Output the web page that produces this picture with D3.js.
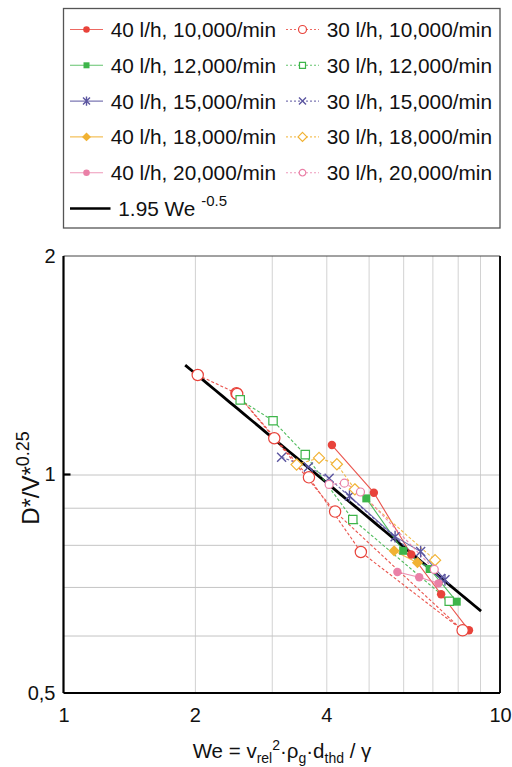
<!DOCTYPE html>
<html>
<head>
<meta charset="utf-8">
<script src="https://cdn.jsdelivr.net/npm/d3@7"></script>
<style>
  html, body { margin: 0; padding: 0; background: #fff; }
  svg { display: block; font-family: "Liberation Sans", Arial, Helvetica, sans-serif; }
</style>
</head>
<body>
<svg id="chart" width="512" height="767"></svg>
<script>
// Measured droplet size ratio D*/V*^0.25 against Weber number We,
// for two liquid flow rates (40 l/h, 30 l/h) and five rotational speeds.
const we40_10000 = [4.12, 5.14, 6.26, 7.33, 8.49];
const d40_10000  = [1.098, 0.944, 0.776, 0.684, 0.610];
const we30_10000 = [2.03, 2.49, 3.04, 4.19, 8.21, 4.80, 3.65, 2.50];
const d30_10000  = [1.371, 1.294, 1.122, 0.889, 0.610, 0.782, 0.991, 1.291];

const we40_12000 = [4.94, 6.00, 6.90, 7.96];
const d40_12000  = [0.927, 0.785, 0.741, 0.668];
const we30_12000 = [2.54, 3.02, 3.58, 4.60, 7.65];
const d30_12000  = [1.267, 1.186, 1.065, 0.867, 0.669];

const we40_15000 = [4.52, 5.75, 6.58, 7.48];
const d40_15000  = [0.934, 0.821, 0.783, 0.716];
const we30_15000 = [3.16, 3.64, 4.06, 7.31];
const d30_15000  = [1.056, 1.024, 0.988, 0.719];

const we40_18000 = [5.72, 6.47];
const d40_18000  = [0.785, 0.756];
const we30_18000 = [3.42, 3.85, 4.23, 4.65, 7.10];
const d30_18000  = [1.032, 1.054, 1.033, 0.954, 0.762];

const we40_20000 = [5.82, 6.53, 7.23];
const d40_20000  = [0.734, 0.722, 0.708];
const we30_20000 = [4.06, 4.40, 4.79, 7.07];
const d30_20000  = [0.969, 0.973, 0.946, 0.740];

// Correlation D*/V*^0.25 = 1.95 We^-0.5 over the measured range
const fitCoef = 1.95;
const fitExp = -0.5;
const fitRange = [1.9, 9.05];

const xTicks = [1, 2, 4, 10];
const yTicks = [0.5, 1, 2];
const xGrid = [2, 3, 4, 5, 6, 7, 8, 9];
const yGrid = [0.6, 0.7, 0.8, 0.9, 1];

const labels = [
  "40 l/h, 10,000/min", "30 l/h, 10,000/min",
  "40 l/h, 12,000/min", "30 l/h, 12,000/min",
  "40 l/h, 15,000/min", "30 l/h, 15,000/min",
  "40 l/h, 18,000/min", "30 l/h, 18,000/min",
  "40 l/h, 20,000/min", "30 l/h, 20,000/min"
];

// ---- marker shapes ----
const symDiamond = { draw(c, s) { const r = Math.sqrt(s / 2);
  c.moveTo(0, -r); c.lineTo(r, 0); c.lineTo(0, r); c.lineTo(-r, 0); c.closePath(); } };
const symTimes = { draw(c, s) { const r = Math.sqrt(s) / 2;
  c.moveTo(-r, -r); c.lineTo(r, r); c.moveTo(-r, r); c.lineTo(r, -r); } };
const symStar = { draw(c, s) { const r = Math.sqrt(s) / 2;
  c.moveTo(-r, -r); c.lineTo(r, r); c.moveTo(-r, r); c.lineTo(r, -r);
  c.moveTo(0, -r * 1.3); c.lineTo(0, r * 1.3); } };

const RED = "#e8433b", GREEN = "#3db54a", PURPLE = "#5b55a0", ORANGE = "#f1b233", PINK = "#ea80a7";

const series = [
  { we: we40_10000, d: d40_10000, color: RED,    sym: d3.symbolCircle, size: 56,  kind: "fill", legSize: 34 },
  { we: we30_10000, d: d30_10000, color: RED,    sym: d3.symbolCircle, size: 100, kind: "open", legSize: 50 },
  { we: we40_12000, d: d40_12000, color: GREEN,  sym: d3.symbolSquare, size: 64,  kind: "fill", legSize: 36 },
  { we: we30_12000, d: d30_12000, color: GREEN,  sym: d3.symbolSquare, size: 70,  kind: "open", legSize: 36 },
  { we: we40_15000, d: d40_15000, color: PURPLE, sym: symStar,         size: 81,  kind: "line", legSize: 49 },
  { we: we30_15000, d: d30_15000, color: PURPLE, sym: symTimes,        size: 81,  kind: "line", legSize: 49 },
  { we: we40_18000, d: d40_18000, color: ORANGE, sym: symDiamond,      size: 62,  kind: "fill", legSize: 40 },
  { we: we30_18000, d: d30_18000, color: ORANGE, sym: symDiamond,      size: 62,  kind: "open", legSize: 40 },
  { we: we40_20000, d: d40_20000, color: PINK,   sym: d3.symbolCircle, size: 56,  kind: "fill", legSize: 34 },
  { we: we30_20000, d: d30_20000, color: PINK,   sym: d3.symbolCircle, size: 50,  kind: "open", legSize: 34 }
].map((s, i) => ({ ...s, label: labels[i], dashed: i % 2 === 1 }));

const svg = d3.select("#chart");
const plot = { left: 63.5, right: 500, top: 256, bottom: 693 };

const x = d3.scaleLog().domain([1, 10]).range([plot.left, plot.right]);
const y = d3.scaleLog().domain([0.5, 2]).range([plot.bottom, plot.top]);

function styleMarker(sel, s) {
  if (s.kind === "fill") sel.attr("fill", s.color).attr("stroke", "none");
  else if (s.kind === "open") sel.attr("fill", "#fff").attr("stroke", s.color).attr("stroke-width", 1.2);
  else sel.attr("fill", "none").attr("stroke", s.color).attr("stroke-width", 1.4);
}

// ---- grid ----
svg.append("g")
  .attr("transform", `translate(0,${plot.bottom})`)
  .call(d3.axisBottom(x).tickValues(xGrid).tickSize(-(plot.bottom - plot.top)).tickFormat(""))
  .call(g => g.select(".domain").remove())
  .call(g => g.selectAll("line").attr("stroke", "#d2d2d2").attr("stroke-width", 1));

svg.append("g")
  .attr("transform", `translate(${plot.left},0)`)
  .call(d3.axisLeft(y).tickValues(yGrid).tickSize(-(plot.right - plot.left)).tickFormat(""))
  .call(g => g.select(".domain").remove())
  .call(g => g.selectAll("line").attr("stroke", "#c4c4c4").attr("stroke-width", 1));

// ---- frame ----
svg.append("line").attr("x1", plot.left).attr("x2", plot.right).attr("y1", plot.top).attr("y2", plot.top)
  .attr("stroke", "#444").attr("stroke-width", 1);
svg.append("line").attr("x1", plot.right).attr("x2", plot.right).attr("y1", plot.top).attr("y2", plot.bottom)
  .attr("stroke", "#111").attr("stroke-width", 2);
svg.append("line").attr("x1", plot.left).attr("x2", plot.right).attr("y1", plot.bottom).attr("y2", plot.bottom)
  .attr("stroke", "#000").attr("stroke-width", 2.2);
svg.append("line").attr("x1", plot.left).attr("x2", plot.left).attr("y1", plot.top).attr("y2", plot.bottom)
  .attr("stroke", "#000").attr("stroke-width", 2.2);
// short inward tick at 1
svg.append("line").attr("x1", plot.left).attr("x2", plot.left + 7).attr("y1", y(1)).attr("y2", y(1))
  .attr("stroke", "#000").attr("stroke-width", 2.2);

// ---- tick labels ----
svg.append("g")
  .attr("transform", `translate(0,${plot.bottom})`)
  .call(d3.axisBottom(x).tickValues(xTicks).tickSize(0).tickPadding(15).tickFormat(d3.format("d")))
  .call(g => g.select(".domain").remove())
  .call(g => g.selectAll("text").attr("font-size", 20).attr("fill", "#111")
    .attr("font-family", "Liberation Sans, Arial, sans-serif"));

svg.append("g")
  .attr("transform", `translate(${plot.left},0)`)
  .call(d3.axisLeft(y).tickValues(yTicks).tickSize(0).tickPadding(8)
    .tickFormat(d => String(d).replace(".", ",")))
  .call(g => g.select(".domain").remove())
  .call(g => g.selectAll("text").attr("font-size", 20).attr("fill", "#111")
    .attr("font-family", "Liberation Sans, Arial, sans-serif"));

// ---- axis titles ----
const xt = svg.append("text").attr("x", 282).attr("y", 758).attr("text-anchor", "middle")
  .attr("font-size", 20.5).attr("fill", "#111");
xt.append("tspan").text("We = v");
xt.append("tspan").attr("font-size", 14).attr("dy", 5).text("rel");
xt.append("tspan").attr("font-size", 14).attr("dy", -13).text("2");
xt.append("tspan").attr("dy", 8).text("·ρ");
xt.append("tspan").attr("font-size", 14).attr("dy", 5).text("g");
xt.append("tspan").attr("dy", -5).text("·d");
xt.append("tspan").attr("font-size", 14).attr("dy", 5).text("thd");
xt.append("tspan").attr("dy", -5).text(" / γ");

const yt = svg.append("text").attr("transform", "translate(39,478) rotate(-90)")
  .attr("text-anchor", "middle").attr("font-size", 24).attr("fill", "#111");
yt.append("tspan").text("D*/V*");
yt.append("tspan").attr("font-size", 18).attr("dy", -10).text("0.25");

// ---- correlation line ----
const fitWe = fitRange;
svg.append("path")
  .datum(d3.range(0, 41).map(i => fitWe[0] * Math.pow(fitWe[1] / fitWe[0], i / 40)))
  .attr("d", d3.line().x(w => x(w)).y(w => y(fitCoef * Math.pow(w, fitExp))))
  .attr("fill", "none").attr("stroke", "#000").attr("stroke-width", 2.8);

// ---- series lines ----
const line = d3.line().x(p => x(p[0])).y(p => y(p[1]));
series.forEach(s => {
  svg.append("path").datum(d3.zip(s.we, s.d)).attr("d", line)
    .attr("fill", "none").attr("stroke", s.color).attr("stroke-width", 1.1)
    .attr("stroke-opacity", 0.9)
    .attr("stroke-dasharray", s.dashed ? "3,2" : null);
});

// ---- markers ----
series.forEach(s => {
  svg.append("g").selectAll("path").data(d3.zip(s.we, s.d)).join("path")
    .attr("transform", p => `translate(${x(p[0])},${y(p[1])})`)
    .attr("d", d3.symbol().type(s.sym).size(s.size))
    .call(sel => styleMarker(sel, s));
});

// ---- legend ----
const leg = svg.append("g");
leg.append("rect").attr("x", 63.5).attr("y", 8.5).attr("width", 436.5).attr("height", 219.5)
  .attr("fill", "#fff").attr("stroke", "#555").attr("stroke-width", 1.3);

const rowY = i => 29.5 + i * 35.8;
const colX = [70, 286];
series.forEach((s, i) => {
  const cy = rowY(Math.floor(i / 2));
  const cx = colX[i % 2];
  leg.append("line").attr("x1", cx).attr("x2", cx + 33).attr("y1", cy).attr("y2", cy)
    .attr("stroke", s.color).attr("stroke-width", 1.1).attr("stroke-opacity", 0.8)
    .attr("stroke-dasharray", s.dashed ? "2,2" : null);
  leg.append("path").attr("transform", `translate(${cx + 16.5},${cy})`)
    .attr("d", d3.symbol().type(s.sym).size(s.legSize))
    .call(sel => styleMarker(sel, s));
  leg.append("text").attr("x", cx + 40.7).attr("y", cy + 7.4)
    .attr("font-size", 20.8).attr("fill", "#111").text(s.label);
});
const fy = rowY(5);
leg.append("line").attr("x1", 70).attr("x2", 110.5).attr("y1", fy).attr("y2", fy)
  .attr("stroke", "#000").attr("stroke-width", 2.6);
const ft = leg.append("text").attr("x", 118.3).attr("y", fy + 7.4).attr("font-size", 20.8).attr("fill", "#111");
ft.append("tspan").text(`${fitCoef} We `);
ft.append("tspan").attr("font-size", 15).attr("dy", -10).text(String(fitExp));
</script>
</body>
</html>
